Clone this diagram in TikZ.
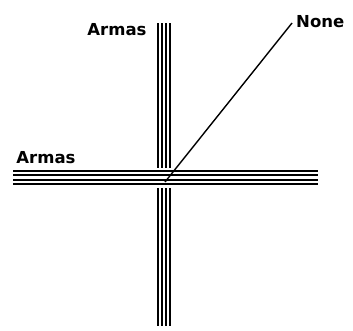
\documentclass[tikz,border=0pt]{standalone}
\usepackage{fontspec}
\setmainfont{DejaVu Sans}
\begin{document}
\begin{tikzpicture}[line cap=butt,line join=miter,x=1pt,y=-1pt,font=\bfseries\fontsize{16.5}{18}\selectfont]
	\tikzset{wire/.style={line width=2pt,black},
		label/.style={inner sep=0pt}
	}
	\useasboundingbox (0,0) rectangle (353,330);
	% vertical bundle
	\foreach \x in {157.5,161.8,166.1,170.4}
		\draw[wire] (\x,23)--(\x,326);
	% horizontal bundle on top
	\fill[white] (13,167.5) rectangle (318,187.5);
	\foreach \y in {171,175.3,179.6,183.9}
		\draw[wire] (13,\y)--(318,\y);
	\node[label] (armasv) at (117,30) {Armas};
	\node[label] (armash) at (46,158) {Armas};
	\node[label,anchor=west] (none) at (296,22) {None};
	\coordinate (o) at (165,182);
	\coordinate (tip) at (292,23);
	\draw[line width=1.4pt] (o)--(tip);
\end{tikzpicture}
\end{document}
